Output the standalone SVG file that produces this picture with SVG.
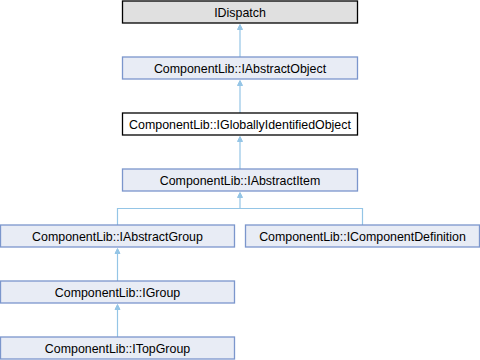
<svg xmlns="http://www.w3.org/2000/svg" width="480" height="360" viewBox="0 0 480 360">
<style>
.n rect{fill:#e8ecf5;stroke:#7b96cc;stroke-width:1.3}
.n.g rect{fill:#e0e0e0;stroke:#000}
.n.w rect{fill:#fff;stroke:#000}
text{font-family:"Liberation Sans",Arial,sans-serif;font-size:12.4px;fill:#000;text-anchor:middle}
.e{stroke:#94c5e6;stroke-width:1.2;fill:none}
.a{fill:#94c5e6;stroke:#94c5e6;stroke-width:1}
</style>
<rect width="480" height="360" fill="#fff"/>
<g id="connectors">
<line class="e" x1="240" y1="30" x2="240" y2="57"/>
<polygon class="a" points="240,24.5 237.5,29.5 242.5,29.5"/>
<line class="e" x1="240" y1="86" x2="240" y2="113"/>
<polygon class="a" points="240,80.5 237.5,85.5 242.5,85.5"/>
<line class="e" x1="240" y1="142" x2="240" y2="169"/>
<polygon class="a" points="240,136.5 237.5,141.5 242.5,141.5"/>
<polyline class="e" points="240,198 240,208.5 117.5,208.5 117.5,225"/>
<polyline class="e" points="240,208.5 362.5,208.5 362.5,225"/>
<polygon class="a" points="240,192.5 237.5,197.5 242.5,197.5"/>
<line class="e" x1="117.5" y1="254" x2="117.5" y2="281"/>
<polygon class="a" points="117.5,248.5 115,253.5 120,253.5"/>
<line class="e" x1="117.5" y1="310" x2="117.5" y2="337"/>
<polygon class="a" points="117.5,304.5 115,309.5 120,309.5"/>
</g>
<g id="IDispatch" class="n g"><rect x="122.5" y="1" width="235" height="22"/><text x="240" y="16.5">IDispatch</text></g>
<g id="IAbstractObject" class="n"><rect x="122.5" y="57" width="235" height="22"/><text x="240" y="72.5">ComponentLib::IAbstractObject</text></g>
<g id="IGloballyIdentifiedObject" class="n w"><rect x="122.5" y="113" width="235" height="22"/><text x="240" y="128.5">ComponentLib::IGloballyIdentifiedObject</text></g>
<g id="IAbstractItem" class="n"><rect x="122.5" y="169" width="235" height="22"/><text x="240" y="184.5">ComponentLib::IAbstractItem</text></g>
<g id="IAbstractGroup" class="n"><rect x="0.5" y="225" width="234" height="22"/><text x="117.5" y="240.5">ComponentLib::IAbstractGroup</text></g>
<g id="IComponentDefinition" class="n"><rect x="245.5" y="225" width="234" height="22"/><text x="362.5" y="240.5">ComponentLib::IComponentDefinition</text></g>
<g id="IGroup" class="n"><rect x="0.5" y="281" width="234" height="22"/><text x="117.5" y="296.5">ComponentLib::IGroup</text></g>
<g id="ITopGroup" class="n"><rect x="0.5" y="337" width="234" height="22"/><text x="117.5" y="352.5">ComponentLib::ITopGroup</text></g>
</svg>
